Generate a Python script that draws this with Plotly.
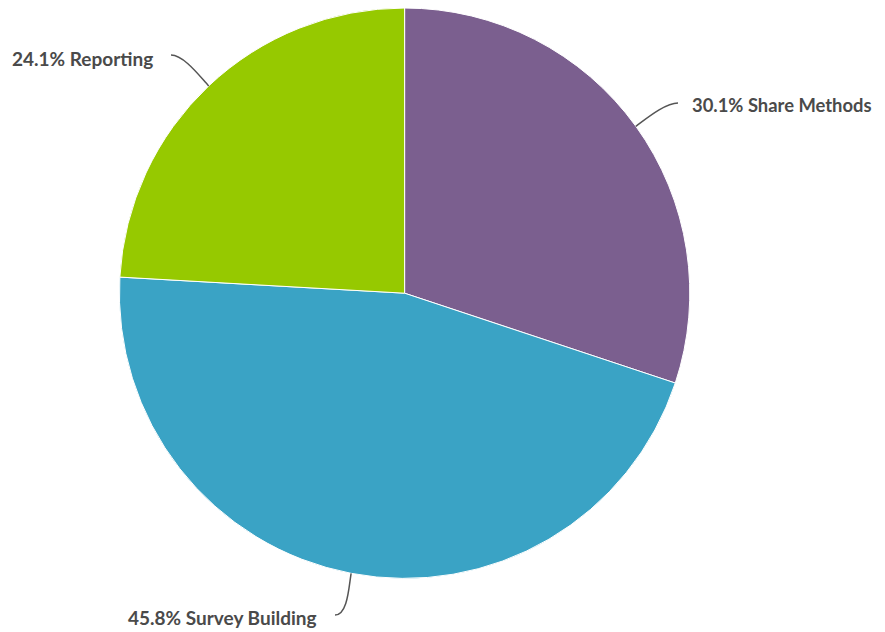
import math
import plotly.graph_objects as go

# ---- data ----
categories = ["Share Methods", "Survey Building", "Reporting"]
values = [30.1, 45.8, 24.1]
colors = ["#7B5F8F", "#3AA3C5", "#96C900"]

# ---- layout / style constants ----
PAGE_OFF = 8                              # browser body margin
W, H = 885 - PAGE_OFF, 632 - PAGE_OFF     # figure size
CX, CY, R = 404.6, 293.2, 285.2           # pie centre / radius in screen pixels
# connector end point (screen pixels), text side, text gap, text dy, font size
label_ends = {"Share Methods": (678, 103, "left", 12, 2, 18.4),
              "Survey Building": (335, 615, "right", 16, 2, 19),
              "Reporting": (171, 55, "right", 16, 3, 19)}
FONT = "Lato, 'Open Sans', sans-serif"
TEXT_COLOR = "#4A4A4A"

def px(x, y):
    return (x - PAGE_OFF) / W, 1 - (y - PAGE_OFF) / H

x0, y0 = px(CX - R, CY + R)
x1, y1 = px(CX + R, CY - R)
clamp = lambda v: max(0.0, min(1.0, v))

fig = go.Figure(go.Pie(
    labels=categories, values=values, sort=False, direction="clockwise",
    rotation=0, textinfo="none", hoverinfo="label+percent",
    marker=dict(colors=colors, line=dict(color="white", width=1)),
    domain=dict(x=[clamp(x0), clamp(x1)], y=[clamp(y0), clamp(y1)]),
    showlegend=False,
))

total = sum(values)
cum = 0.0
shapes, annotations = [], []
for cat, v in zip(categories, values):
    mid = (cum + v / 2) / total * 2 * math.pi
    cum += v
    dx, dy = math.sin(mid), -math.cos(mid)
    p = (CX + R * dx, CY + R * dy)
    ex, ey, side, gap, tdy, fs = label_ends[cat]
    c1 = (p[0] + dx * 12, p[1] + dy * 12)
    s = 1 if side == "right" else -1
    c2 = (ex + s * 13, ey)
    pts = [px(*p), px(*c1), px(*c2), px(ex, ey)]
    path = "M {0[0]},{0[1]} C {1[0]},{1[1]} {2[0]},{2[1]} {3[0]},{3[1]}".format(*pts)
    shapes.append(dict(type="path", path=path, xref="paper", yref="paper",
                       line=dict(color="#555555", width=1.5)))
    tx = ex - gap if side == "right" else ex + gap
    ax, ay = px(tx, ey + tdy)
    annotations.append(dict(x=ax, y=ay, xref="paper", yref="paper", showarrow=False,
                            text=f"{v:.1f}% {cat}", xanchor=side, yanchor="middle",
                            font=dict(family=FONT, size=fs, color=TEXT_COLOR, weight="bold")))

fig.update_layout(width=W, height=H, margin=dict(l=0, r=0, t=0, b=0),
                  paper_bgcolor="white", plot_bgcolor="white",
                  shapes=shapes, annotations=annotations)
fig.write_html("out.html")
